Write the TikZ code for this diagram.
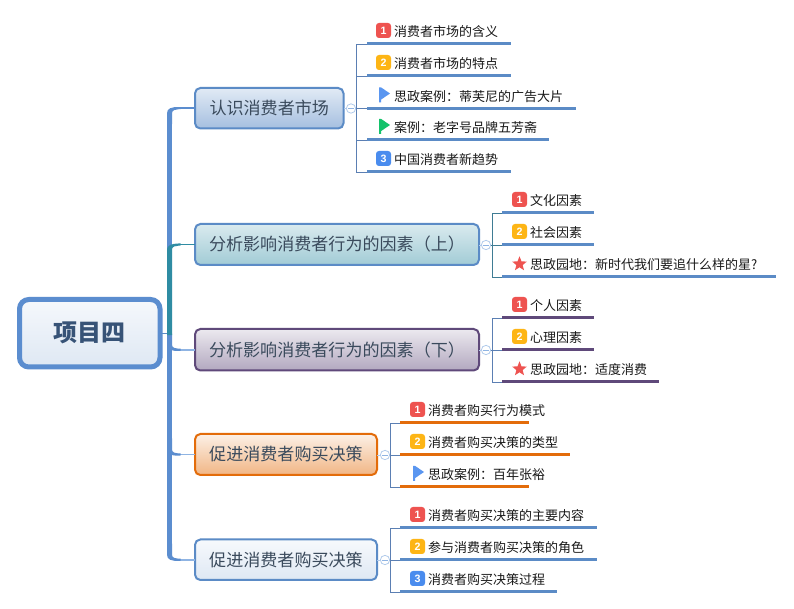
\documentclass[tikz,border=0pt]{standalone}
\usepackage{fontspec}
\setmainfont{Noto Sans CJK SC}
\newfontfamily\digitfont{Liberation Sans}
\usetikzlibrary{shapes.geometric,calc}
\definecolor{mainblue}{HTML}{5B8DCF}
\definecolor{teal1}{HTML}{2F8CA3}
\definecolor{lightblue}{HTML}{8FB4E3}
\definecolor{ulblue}{HTML}{5B8BC6}
\definecolor{ulpurple}{HTML}{5F497A}
\definecolor{ulorange}{HTML}{E36C0A}
\definecolor{brk}{HTML}{5B7FB3}
\definecolor{brkteal}{HTML}{3F7C94}
\definecolor{redb}{HTML}{EE5350}
\definecolor{yelb}{HTML}{FDB515}
\definecolor{blub}{HTML}{4A8CEE}
\definecolor{greenf}{HTML}{14C26B}
\definecolor{flagb}{HTML}{5A96F0}
\definecolor{boxtext}{HTML}{3A4A5C}
\tikzset{
  x=0.75pt,y=-0.75pt,
  mainbox/.style={draw,line width=1.5pt,rounded corners=4pt,inner sep=0pt,outer sep=0pt,
    font=\fontsize{12.8pt}{15pt}\selectfont,text=boxtext},
  rootbox/.style={draw=mainblue,line width=3.75pt,rounded corners=7pt,inner sep=0pt,outer sep=0pt,
    top color=ulblue!6,bottom color=ulblue!20,
    font=\fontsize{18pt}{22pt}\selectfont\bfseries,text=ulblue!60!black},
  boxa/.style={mainbox,draw=ulblue,top color=ulblue!18,bottom color=ulblue!55},
  boxb/.style={mainbox,draw=ulblue,top color=teal1!18,bottom color=teal1!45},
  boxc/.style={mainbox,draw=ulpurple,top color=ulpurple!12,bottom color=ulpurple!48},
  boxd/.style={mainbox,draw=ulorange,top color=ulorange!10,bottom color=ulorange!50},
  boxe/.style={mainbox,draw=ulblue,top color=ulblue!5,bottom color=ulblue!20},
  badge/.style={rounded corners=2.2pt,minimum size=11.25pt,inner sep=0pt,outer sep=0pt,text=white,
    font=\digitfont\fontsize{8pt}{8pt}\selectfont\bfseries},
  leaftext/.style={anchor=west,inner sep=0pt,outer sep=0pt,text=black!90,font=\fontsize{9.75pt}{12pt}\selectfont},
  ul/.style={line width=2.25pt},
  brack/.style={line width=0.6pt},
  collapse/.style={circle,draw=lightblue!70,fill=white,line width=0.6pt,minimum size=7pt,inner sep=0pt,outer sep=0pt},
  staricon/.style={star,star points=5,star point ratio=2.3,fill=redb,minimum size=11.5pt,inner sep=0pt,outer sep=0pt},
}
% name, x0, y0, x1, y1, style, text
\newcommand\bigbox[7]{\node[#6,minimum width={(#4-#2)*0.75pt},minimum height={(#5-#3)*0.75pt}] (#1) at ({(#2+#4)/2},{(#3+#5)/2}) {\raisebox{-0.8pt}{#7}};}
% taper: box name, thick colour, thin colour, sign (+1 trunk comes from above, -1 from below)
\newcommand\taper[4]{%
  \draw[line width=1.4pt,#3] ($(#1.west -| tx)+(4,0)$) -- (#1.west);
  \fill[#2] (#1.west -| tx) ++(-2.5,#4*-16) -- ++(5,0) -- ++(0,#4*11)
     .. controls +(0,#4*3) and +(-3,0) .. ++(6.5,#4*4) -- ++(2,0) -- ++(0,#4*2)
     -- ($(#1.west -| tx)+(9,#4*1.2)$)
     .. controls +(-7,0) and +(0,#4*5) .. ($(#1.west -| tx)+(-2.5,#4*-5)$) -- cycle;
}
% name, underline x0, underline y, underline x1, colour, text x offset, text
\newcommand\leaf[7]{%
  \coordinate (#1s) at (#2,#3);
  \coordinate (#1e) at (#4,#3);
  \node[leaftext] (#1t) at (#2+#6,#3-12.3) {#7};
  \draw[ul,#5] (#1s) -- (#1e);
}
\newcommand\numbadge[5]{\node[badge,fill=#4] (#1) at (#2,#3) {#5};}
\newcommand\flagicon[4]{%
  \node[inner sep=0pt,outer sep=0pt,minimum size=1pt] (#1) at (#2,#3) {};
  \fill[#4] ($(#1)+(-5,-7.5)$) -- ++(2.2,0) -- ++(8.8,6) -- ++(-8.8,6) -- ++(0,3) -- ++(-2.2,0) -- cycle;
}
\newcommand\stariconat[3]{\node[staricon] (#1) at (#2,#3) {};}
\begin{document}
\begin{tikzpicture}
\useasboundingbox[fill=white] (0,0) rectangle (794,609);
\coordinate (tx) at (169.5,0);

% boxes
\bigbox{root}{19.5}{299.5}{160}{367}{rootbox}{\raisebox{-0.6pt}{项目四}}
\bigbox{b1}{195}{88}{343.5}{128.5}{boxa}{认识消费者市场}
\bigbox{b2}{195}{224}{479}{265}{boxb}{分析影响消费者行为的因素（上）}
\bigbox{b3}{195}{329}{479}{370.5}{boxc}{分析影响消费者行为的因素（下）}
\bigbox{b4}{195}{434}{377}{475}{boxd}{促进消费者购买决策}
\bigbox{b5}{195}{539.5}{377}{580}{boxe}{促进消费者购买决策}

% trunk
\draw[line width=0.8pt,ulblue] (root.east) -- (root.east -| tx);
\draw[line width=3.75pt,mainblue] ($(b1.west -| tx)+(0,10)$) -- ($(b5.west -| tx)+(0,-10)$);
\taper{b1}{mainblue}{mainblue}{-1}
\taper{b3}{mainblue}{lightblue}{1}
\taper{b4}{mainblue}{lightblue}{1}
\taper{b5}{mainblue}{lightblue}{1}
\draw[line width=1.4pt,teal1] ($(b2.west -| tx)+(4,0)$) -- (b2.west);
\fill[teal1] ($(root.east -| tx)+(-2.5,2)$) -- ($(b2.west -| tx)+(-2.5,5)$)
  .. controls +(0,-4) and +(-7,0) .. ($(b2.west -| tx)+(9,-1)$) -- ++(2,0) -- ++(0,2)
  -- ($(b2.west -| tx)+(9,1.2)$) .. controls +(-3,0) and +(0,-3) .. ($(b2.west -| tx)+(2.5,5)$)
  -- ($(root.east -| tx)+(2.5,2)$) -- cycle;

% box 1 leaves
\leaf{a1}{367}{44}{511}{ulblue}{27}{消费者市场的含义}
\leaf{a2}{367}{76}{511}{ulblue}{27}{消费者市场的特点}
\leaf{a3}{367}{108.5}{576}{ulblue}{27}{思政案例：蒂芙尼的广告大片}
\leaf{a4}{367}{140}{549}{ulblue}{27}{案例：老字号品牌五芳斋}
\leaf{a5}{367}{172}{511}{ulblue}{27}{中国消费者新趋势}
\numbadge{ai1}{383.5}{30.5}{redb}{1}
\numbadge{ai2}{383.5}{62.5}{yelb}{2}
\flagicon{ai3}{384}{95}{flagb}
\flagicon{ai4}{384}{126.5}{greenf}
\numbadge{ai5}{383.5}{158.5}{blub}{3}

% box 2 leaves
\leaf{c1}{502}{213}{594}{ulblue}{28}{文化因素}
\leaf{c2}{502}{245}{594}{ulblue}{28}{社会因素}
\leaf{c3}{502}{277}{776}{ulblue}{28}{思政园地：新时代我们要追什么样的星?}
\numbadge{ci1}{519.5}{199.5}{redb}{1}
\numbadge{ci2}{519.5}{231.5}{yelb}{2}
\stariconat{ci3}{519.5}{264}

% box 3 leaves
\leaf{d1}{502}{318}{594}{ulpurple}{28}{个人因素}
\leaf{d2}{502}{350}{594}{ulpurple}{28}{心理因素}
\leaf{d3}{502}{382}{659}{ulpurple}{28}{思政园地：适度消费}
\numbadge{di1}{519.5}{304.5}{redb}{1}
\numbadge{di2}{519.5}{336.5}{yelb}{2}
\stariconat{di3}{519.5}{369}

% box 4 leaves
\leaf{e1}{400}{423}{529}{ulorange}{28}{消费者购买行为模式}
\leaf{e2}{400}{455}{570}{ulorange}{28}{消费者购买决策的类型}
\leaf{e3}{400}{487}{529}{ulorange}{28}{思政案例：百年张裕}
\numbadge{ei1}{417.5}{409.5}{redb}{1}
\numbadge{ei2}{417.5}{441.5}{yelb}{2}
\flagicon{ei3}{418}{473.5}{flagb}

% box 5 leaves
\leaf{f1}{400}{528}{597}{ulblue}{28}{消费者购买决策的主要内容}
\leaf{f2}{400}{560}{597}{ulblue}{28}{参与消费者购买决策的角色}
\leaf{f3}{400}{592}{557}{ulblue}{28}{消费者购买决策过程}
\numbadge{fi1}{417.5}{514.5}{redb}{1}
\numbadge{fi2}{417.5}{546.5}{yelb}{2}
\numbadge{fi3}{417.5}{578.5}{blub}{3}

% collapse markers
\node[collapse] (k1) at (351,108.5) {};
\node[collapse] (k2) at (486,245) {};
\node[collapse] (k3) at (486,350) {};
\node[collapse] (k4) at (385,455) {};
\node[collapse] (k5) at (385,560) {};
\foreach \k/\bx in {k1/b1,k2/b2,k3/b3,k4/b4,k5/b5}{
  \draw[line width=0.6pt,lightblue!70] (\bx.east |- \k) -- (\k.west);
  \draw[line width=0.5pt,lightblue] ($(\k.west)+(1.5,0)$) -- ($(\k.east)+(-1.5,0)$);
}
% brackets
\draw[brack,brk] (k1.east) -- (a3s);
\draw[brack,brk] (a1s) -- ($(a1s)+(-11,0)$) -- ($(a5s)+(-11,0)$) -- (a5s);
\draw[brack,brk] ($(a2s)+(-11,0)$) -- (a2s);
\draw[brack,brk] ($(a4s)+(-11,0)$) -- (a4s);
\draw[brack,brkteal] (k2.east) -- (c2s);
\draw[brack,brkteal] (c1s) -- ($(c1s)+(-10,0)$) -- ($(c3s)+(-10,0)$) -- (c3s);
\draw[brack,brk] (k3.east) -- (d2s);
\draw[brack,brk] (d1s) -- ($(d1s)+(-10,0)$) -- ($(d3s)+(-10,0)$) -- (d3s);
\draw[brack,brk] (k4.east) -- (e2s);
\draw[brack,brk] (e1s) -- ($(e1s)+(-10,0)$) -- ($(e3s)+(-10,0)$) -- (e3s);
\draw[brack,brk] (k5.east) -- (f2s);
\draw[brack,brk] (f1s) -- ($(f1s)+(-10,0)$) -- ($(f3s)+(-10,0)$) -- (f3s);
\end{tikzpicture}
\end{document}
